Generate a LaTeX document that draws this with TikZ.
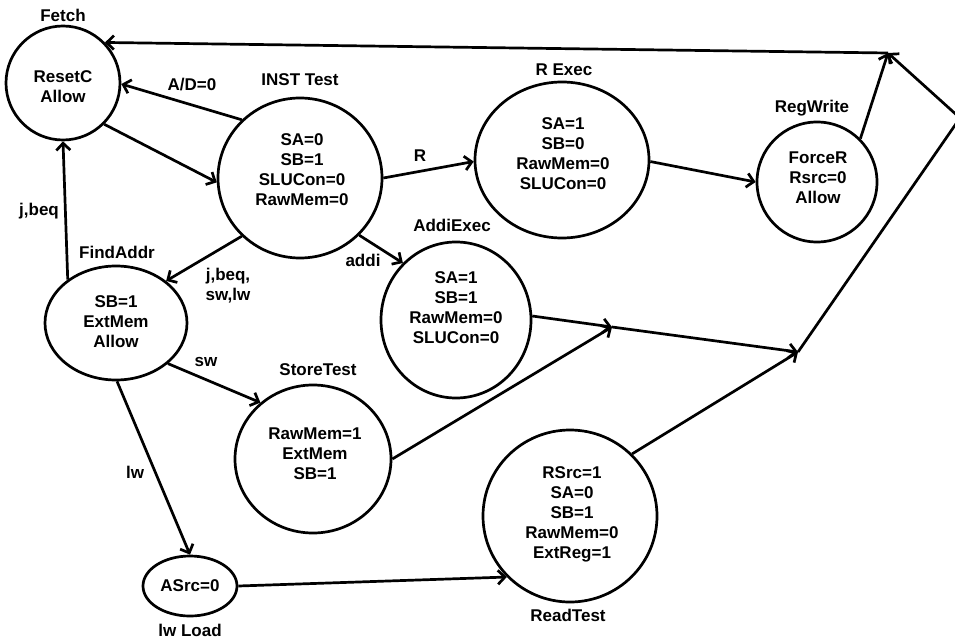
\documentclass[tikz,border=0pt]{standalone}
\usepackage{fontspec}
\setmainfont{Liberation Sans}
\usetikzlibrary{shapes.geometric,arrows.meta}
\begin{document}
\begin{tikzpicture}[x=1pt,y=-1pt,
  txt/.style={font=\bfseries\fontsize{17}{20}\selectfont},
  state/.style={ellipse, draw, line width=2.7pt, inner sep=0pt},
  lbl/.style={inner sep=0pt, align=center, txt},
  conn/.style={line width=2.7pt, -{Straight Barb[length=7pt,width=14pt]}},
  plain/.style={line width=2.7pt}]
\useasboundingbox (0,0) rectangle (955,639);
\clip (0,0) rectangle (955,639);
% states
\node[state, minimum width=114pt, minimum height=114pt] (fetch) at (63,83) {};
\node[state, minimum width=164pt, minimum height=160pt] (inst) at (300,178) {};
\node[state, minimum width=174pt, minimum height=156pt] (rexec) at (562,160) {};
\node[state, minimum width=120pt, minimum height=120pt] (regw) at (817,182) {};
\node[state, minimum width=150pt, minimum height=156pt] (addi) at (456,320) {};
\node[state, minimum width=142pt, minimum height=114pt] (find) at (116,323) {};
\node[state, minimum width=156pt, minimum height=148pt] (store) at (313,459) {};
\node[state, minimum width=94pt, minimum height=60pt] (lwload) at (190,586) {};
\node[state, minimum width=174pt, minimum height=172pt] (read) at (570,516) {};
% state contents
\node[lbl] (fetch-t) at (63,87) {ResetC\\Allow};
\node[lbl] (inst-t) at (302,170) {SA=0\\SB=1\\SLUCon=0\\RawMem=0};
\node[lbl] (rexec-t) at (563,154) {SA=1\\SB=0\\RawMem=0\\SLUCon=0};
\node[lbl] (regw-t) at (818,178) {ForceR\\Rsrc=0\\Allow};
\node[lbl] (addi-t) at (456,308) {SA=1\\SB=1\\RawMem=0\\SLUCon=0};
\node[lbl] (find-t) at (116,322) {SB=1\\ExtMem\\Allow};
\node[lbl] (store-t) at (315,454) {RawMem=1\\ExtMem\\SB=1};
\node[lbl] (lwload-t) at (190,586) {ASrc=0};
\node[lbl] (read-t) at (572,514) {RSrc=1\\SA=0\\SB=1\\RawMem=0\\ExtReg=1};
% state titles
\node[lbl] (tfetch) at (63,15) {Fetch};
\node[lbl] (tinst) at (300,80) {INST Test};
\node[lbl] (trexec) at (564,70) {R Exec};
\node[lbl] (tregw) at (812,108) {RegWrite};
\node[lbl] (taddi) at (452,225) {AddiExec};
\node[lbl] (tfind) at (117,252) {FindAddr};
\node[lbl] (tstore) at (318,370) {StoreTest};
\node[lbl] (tlw) at (190,630) {lw Load};
\node[lbl] (tread) at (568,615) {ReadTest};
% edge labels
\node[lbl] (lad) at (192,85) {A/D=0};
\node[lbl] (lr) at (420,156) {R};
\node[lbl] (laddi) at (363,260) {addi};
\node[lbl] (ljb) at (228,286) {j,beq,\\sw,lw};
\node[lbl] (lsw) at (206,362) {sw};
\node[lbl] (llw) at (135,472) {lw};
\node[lbl] (ljbeq) at (39,211) {j,beq};
% junctions
\coordinate (j1) at (612,327);
\coordinate (j2) at (798,352);
\coordinate (vtx) at (960,118);
\coordinate (j3) at (888,53);
% connectors
\draw[conn] (fetch.-45) -- (inst.183);
\draw[conn] (inst.135) -- (fetch.-1);
\draw[conn] (inst.0) -- (rexec.181);
\draw[conn] (rexec.-1) -- (regw.180);
\draw[conn] (regw.45) -- (j3);
\draw[conn] (inst.225) -- (find.40);
\draw[conn] (inst.-44) -- (addi.133);
\draw[conn] (find.138) -- (fetch.-90);
\draw[conn] (find.-38) -- (store.133);
\draw[conn] (find.-89) -- (lwload.90);
\draw[conn] (lwload.0) -- (read.224);
\draw[conn] (addi.3) -- (j1);
\draw[conn] (store.0) -- (j1);
\draw[conn] (j1) -- (j2);
\draw[conn] (read.45) -- (j2);
\draw[plain] (j2) -- (vtx);
\draw[conn] (vtx) -- (j3);
\draw[conn] (j3) -- (fetch.44);
\end{tikzpicture}
\end{document}
